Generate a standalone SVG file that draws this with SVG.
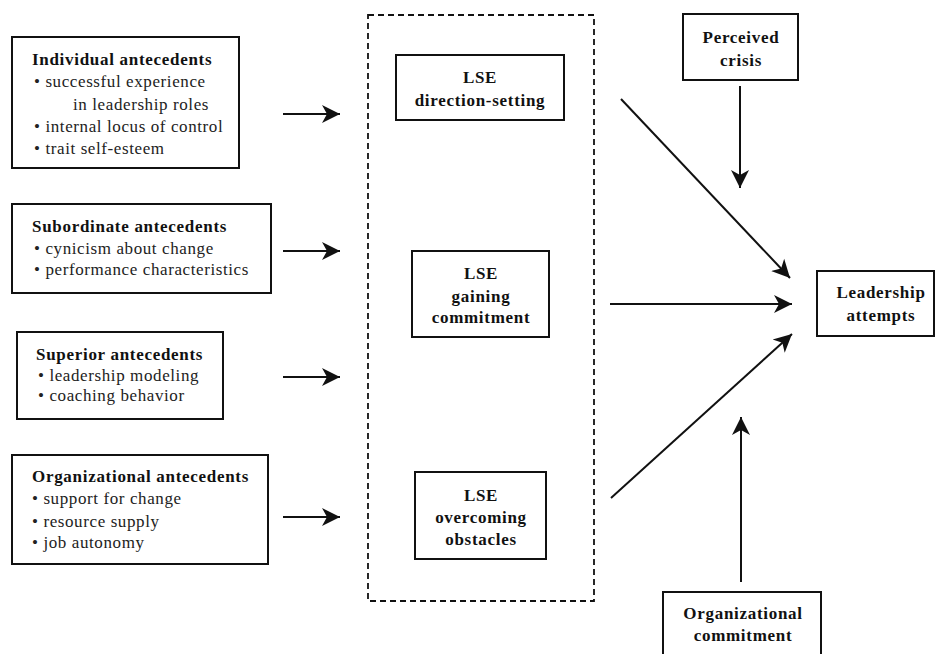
<svg xmlns="http://www.w3.org/2000/svg" width="935" height="654" viewBox="0 0 935 654">
<defs>
<marker id="ah" markerUnits="userSpaceOnUse" markerWidth="20" markerHeight="20" refX="18" refY="10" orient="auto">
<path d="M0,1 L18,10 L0,19 L5,10 Z" fill="#111"/>
</marker>
<style>
.box{fill:#fff;stroke:#111;stroke-width:2}
.dash{fill:none;stroke:#111;stroke-width:1.8;stroke-dasharray:6 4}
.t{font-family:"Liberation Serif","Times New Roman",serif;font-size:17px;font-weight:bold;letter-spacing:0.7px;fill:#111}
.b{font-family:"Liberation Serif","Times New Roman",serif;font-size:17px;letter-spacing:0.6px;fill:#222}
.c{text-anchor:middle}
.ln{fill:none;stroke:#111;stroke-width:2;marker-end:url(#ah)}
</style>
</defs>
<rect width="935" height="654" fill="#fff"/>

<g id="individual">
<rect class="box" x="12" y="37" width="227" height="131"/>
<text class="t" x="32" y="65">Individual antecedents</text>
<text class="b" x="34" y="87">• successful experience</text>
<text class="b" x="73" y="110">in leadership roles</text>
<text class="b" x="34" y="132">• internal locus of control</text>
<text class="b" x="34" y="154">• trait self-esteem</text>
</g>

<g id="subordinate">
<rect class="box" x="12" y="204" width="259" height="89"/>
<text class="t" x="32" y="232">Subordinate antecedents</text>
<text class="b" x="34" y="254">• cynicism about change</text>
<text class="b" x="34" y="275">• performance characteristics</text>
</g>

<g id="superior">
<rect class="box" x="17" y="332" width="206" height="87"/>
<text class="t" x="36" y="360">Superior antecedents</text>
<text class="b" x="38" y="381">• leadership modeling</text>
<text class="b" x="38" y="401">• coaching behavior</text>
</g>

<g id="organizational">
<rect class="box" x="12" y="455" width="256" height="109"/>
<text class="t" x="32" y="482">Organizational antecedents</text>
<text class="b" x="32" y="504">• support for change</text>
<text class="b" x="32" y="527">• resource supply</text>
<text class="b" x="32" y="548">• job autonomy</text>
</g>

<g id="lse-group">
<rect class="dash" x="368" y="15" width="226" height="586"/>
</g>

<g id="lse-direction">
<rect class="box" x="396" y="55" width="168" height="65"/>
<text class="t c" x="480" y="83">LSE</text>
<text class="t c" x="480" y="106">direction-setting</text>
</g>

<g id="lse-gaining">
<rect class="box" x="412" y="251" width="137" height="86"/>
<text class="t c" x="481" y="279">LSE</text>
<text class="t c" x="481" y="302">gaining</text>
<text class="t c" x="481" y="323">commitment</text>
</g>

<g id="lse-overcoming">
<rect class="box" x="415" y="472" width="131" height="87"/>
<text class="t c" x="481" y="501">LSE</text>
<text class="t c" x="481" y="523">overcoming</text>
<text class="t c" x="481" y="545">obstacles</text>
</g>

<g id="perceived-crisis">
<rect class="box" x="683" y="14" width="115" height="66"/>
<text class="t c" x="741" y="43">Perceived</text>
<text class="t c" x="741" y="66">crisis</text>
</g>

<g id="leadership-attempts">
<rect class="box" x="817" y="271" width="117" height="65"/>
<text class="t c" x="881" y="298">Leadership</text>
<text class="t c" x="881" y="321">attempts</text>
</g>

<g id="organizational-commitment">
<rect class="box" x="663" y="592" width="158" height="80"/>
<text class="t c" x="743" y="619">Organizational</text>
<text class="t c" x="743" y="641">commitment</text>
</g>

<g id="connectors">
<path class="ln" d="M283,114 H340"/>
<path class="ln" d="M283,251 H340"/>
<path class="ln" d="M283,377 H340"/>
<path class="ln" d="M283,517 H340"/>
<path class="ln" d="M621,99 L790,278"/>
<path class="ln" d="M610,304 H792"/>
<path class="ln" d="M611,498 L792,334"/>
<path class="ln" d="M740,86 V188"/>
<path class="ln" d="M741,582 V417"/>
</g>
</svg>
